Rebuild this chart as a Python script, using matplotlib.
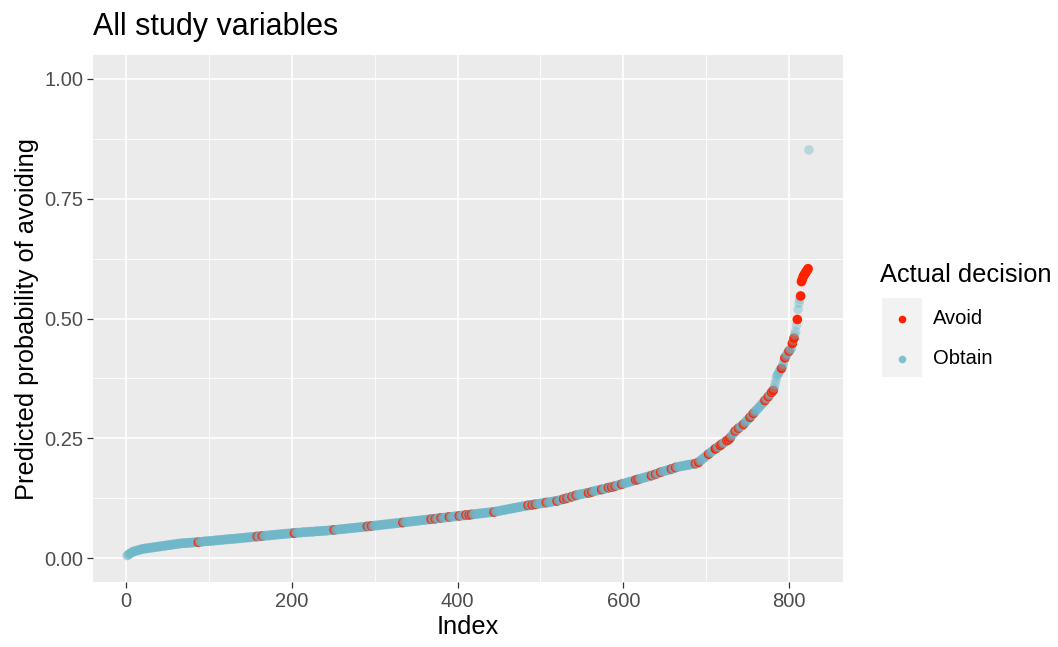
import matplotlib
matplotlib.use('Agg')
import matplotlib.pyplot as plt
import numpy as np
from matplotlib.lines import Line2D
from matplotlib.patches import Rectangle

plt.rcParams['font.family'] = ['Liberation Sans', 'DejaVu Sans']

# predicted probability of avoiding (x1000), sorted, one value per observation
prob_x1000 = [
    5, 6, 8, 9, 10, 11, 12, 13, 14, 14, 15, 15, 16, 16, 17, 17, 18, 18, 19, 19,
    19, 20, 20, 20, 20, 21, 21, 21, 21, 22, 22, 22, 22, 23, 23, 23, 23, 24, 24, 24,
    24, 25, 25, 25, 25, 26, 26, 26, 26, 27, 27, 27, 27, 28, 28, 28, 28, 29, 29, 29,
    29, 30, 30, 30, 30, 31, 31, 31, 31, 31, 31, 31, 31, 32, 32, 32, 32, 32, 32, 32,
    33, 33, 33, 33, 33, 33, 33, 34, 34, 34, 34, 34, 34, 35, 35, 35, 35, 35, 35, 35,
    36, 36, 36, 36, 36, 36, 37, 37, 37, 37, 37, 37, 38, 38, 38, 38, 38, 38, 39, 39,
    39, 39, 39, 39, 40, 40, 40, 40, 40, 40, 40, 41, 41, 41, 41, 41, 41, 42, 42, 42,
    42, 42, 42, 43, 43, 43, 43, 43, 43, 44, 44, 44, 44, 44, 44, 45, 45, 45, 45, 45,
    45, 46, 46, 46, 46, 46, 46, 47, 47, 47, 47, 47, 47, 48, 48, 48, 48, 48, 48, 49,
    49, 49, 49, 49, 49, 50, 50, 50, 50, 50, 50, 51, 51, 51, 51, 51, 51, 52, 52, 52,
    52, 52, 52, 53, 53, 53, 53, 53, 53, 53, 53, 54, 54, 54, 54, 54, 54, 54, 54, 55,
    55, 55, 55, 55, 55, 55, 55, 56, 56, 56, 56, 56, 56, 56, 56, 57, 57, 57, 57, 57,
    57, 57, 57, 58, 58, 58, 58, 58, 58, 58, 59, 59, 59, 59, 59, 60, 60, 60, 60, 60,
    60, 61, 61, 61, 61, 61, 62, 62, 62, 62, 62, 62, 63, 63, 63, 63, 63, 64, 64, 64,
    64, 64, 64, 65, 65, 65, 65, 65, 66, 66, 66, 66, 66, 66, 67, 67, 67, 67, 67, 68,
    68, 68, 68, 68, 69, 69, 69, 69, 69, 70, 70, 70, 70, 70, 71, 71, 71, 71, 71, 72,
    72, 72, 72, 72, 73, 73, 73, 73, 73, 74, 74, 74, 74, 74, 75, 75, 75, 75, 75, 76,
    76, 76, 76, 76, 77, 77, 77, 77, 77, 78, 78, 78, 78, 78, 79, 79, 79, 79, 79, 80,
    80, 80, 80, 80, 81, 81, 81, 81, 81, 82, 82, 82, 82, 82, 83, 83, 83, 83, 83, 84,
    84, 84, 84, 84, 85, 85, 85, 85, 85, 86, 86, 86, 86, 86, 87, 87, 87, 87, 87, 88,
    88, 88, 88, 88, 89, 89, 89, 89, 89, 90, 90, 90, 90, 90, 91, 91, 91, 91, 91, 92,
    92, 92, 92, 92, 93, 93, 93, 93, 93, 94, 94, 94, 94, 94, 95, 95, 95, 95, 95, 96,
    96, 96, 96, 96, 97, 97, 97, 98, 98, 98, 99, 99, 99, 100, 100, 100, 101, 101, 101, 102,
    102, 102, 103, 103, 103, 104, 104, 104, 105, 105, 105, 106, 106, 106, 107, 107, 107, 108, 108, 108,
    109, 109, 109, 110, 110, 110, 111, 111, 111, 111, 112, 112, 112, 112, 113, 113, 113, 113, 114, 114,
    114, 114, 115, 115, 115, 115, 116, 116, 116, 116, 117, 117, 117, 118, 118, 118, 119, 119, 119, 119,
    120, 120, 121, 121, 122, 122, 123, 123, 124, 124, 125, 125, 126, 126, 127, 127, 128, 128, 129, 129,
    130, 130, 131, 131, 132, 132, 133, 133, 133, 134, 134, 134, 135, 135, 135, 136, 136, 136, 137, 137,
    138, 138, 139, 139, 140, 140, 141, 141, 141, 142, 142, 143, 143, 143, 144, 144, 145, 145, 145, 146,
    146, 147, 147, 147, 148, 148, 149, 149, 150, 150, 151, 151, 152, 152, 153, 153, 154, 154, 155, 155,
    156, 156, 157, 157, 158, 158, 159, 159, 160, 160, 161, 161, 162, 162, 163, 163, 164, 164, 165, 165,
    166, 166, 167, 167, 168, 168, 169, 169, 170, 170, 171, 171, 172, 172, 173, 173, 174, 174, 175, 175,
    176, 177, 178, 179, 179, 180, 180, 181, 181, 182, 182, 183, 183, 184, 184, 185, 185, 186, 186, 187,
    187, 188, 189, 190, 190, 190, 191, 191, 191, 192, 192, 192, 193, 193, 193, 194, 194, 194, 195, 195,
    195, 196, 196, 196, 196, 197, 197, 197, 197, 199, 200, 202, 203, 205, 206, 207, 209, 210, 212, 213,
    215, 216, 217, 219, 220, 221, 223, 224, 225, 227, 228, 229, 230, 232, 233, 234, 235, 237, 238, 239,
    240, 242, 243, 244, 245, 246, 247, 249, 251, 254, 256, 258, 260, 263, 265, 266, 268, 269, 271, 272,
    274, 275, 276, 278, 279, 281, 283, 285, 287, 289, 290, 292, 294, 296, 298, 300, 302, 304, 306, 308,
    309, 311, 313, 315, 317, 319, 321, 323, 325, 327, 329, 331, 333, 335, 337, 339, 341, 343, 346, 348,
    350, 355, 362, 370, 378, 382, 385, 388, 391, 394, 396, 400, 405, 412, 418, 421, 424, 427, 430, 432,
    434, 436, 438, 448, 454, 459, 466, 473, 486, 498, 519, 532, 540, 547, 577, 582, 587, 590, 593, 596,
    598, 601, 604, 852,
]

# observations whose actual decision was "Avoid" (1-based index); the rest are "Obtain"
avoid_index = [
    87, 158, 164, 203, 251, 291, 296, 334, 368, 373, 380, 390, 402, 410, 414,
    417, 444, 485, 490, 494, 507, 520, 528, 532, 538, 543, 558, 562, 574, 582,
    586, 590, 598, 615, 618, 634, 639, 645, 658, 663, 687, 691, 703, 711, 712,
    717, 719, 725, 727, 729, 735, 739, 745, 753, 757, 771, 775, 779, 781, 791,
    795, 800, 804, 806, 810, 814, 815, 816, 817, 818, 819, 820, 821, 822, 823,
]

decision_labels = ['Avoid', 'Obtain']
avoid_rgba = (1.0, 0.13, 0.0, 1.0)
obtain_rgba = (0.44, 0.72, 0.79, 0.42)

prob = np.array(prob_x1000) / 1000
n = len(prob)
index = np.arange(1, n + 1)
is_avoid = np.isin(index, avoid_index)
colors = np.array([avoid_rgba if a else obtain_rgba for a in is_avoid])

W, H = 1058, 647
fig = plt.figure(figsize=(W / 100, H / 100), dpi=100)
ax = fig.add_axes([93 / W, 1 - 582 / H, 750 / W, 527 / H])
ax.set_facecolor('#EBEBEB')

ax.scatter(index, prob, c=colors, s=48, edgecolors='none', zorder=3)

pad = 0.05 * (n - 1)
ax.set_xlim(1 - pad, n + pad)
ax.set_ylim(-0.05, 1.05)
ax.set_xticks([0, 200, 400, 600, 800])
ax.set_xticks([100, 300, 500, 700], minor=True)
ax.set_yticks([0, 0.25, 0.5, 0.75, 1.0])
ax.set_yticklabels(['0.00', '0.25', '0.50', '0.75', '1.00'])
ax.set_yticks([0.125, 0.375, 0.625, 0.875], minor=True)
ax.grid(which='major', color='white', lw=1.2)
ax.grid(which='minor', color='white', lw=0.6)
ax.set_axisbelow(True)
for s in ax.spines.values():
    s.set_visible(False)
ax.tick_params(which='major', colors='#333333', labelcolor='#4D4D4D',
               labelsize=14.5, length=4, width=0.9, pad=3)
ax.tick_params(which='minor', length=0)

ax.set_xlabel('Index', fontsize=18.3, labelpad=3)
ax.set_ylabel('Predicted probability of avoiding', fontsize=18.3, labelpad=4)

fig.text(93 / W, 1 - 35 / H, 'All study variables', fontsize=22,
         ha='left', va='baseline')


# legend drawn by hand, in figure pixel positions
def fx(px):
    return px / W


def fy(py):
    return 1 - py / H


fig.text(fx(880), fy(275), 'Actual decision', fontsize=18.3, ha='left', va='center')
fig.add_artist(Rectangle((fx(881.5), fy(377)), 40 / W, 79 / H,
                         transform=fig.transFigure, facecolor='#F2F2F2',
                         edgecolor='none'))
legend_rgba = [avoid_rgba, (0.44, 0.72, 0.79, 0.85)]
for k, (lab, col) in enumerate(zip(decision_labels, legend_rgba)):
    yy = 319 + 40 * k
    fig.add_artist(Line2D([fx(901.5)], [fy(yy)], transform=fig.transFigure,
                          marker='o', markersize=5.5, color=col,
                          markeredgecolor='none', linestyle='none'))
    fig.text(fx(933), fy(yy), lab, fontsize=14.5, ha='left', va='center')

fig.savefig('out.png', dpi=100)
